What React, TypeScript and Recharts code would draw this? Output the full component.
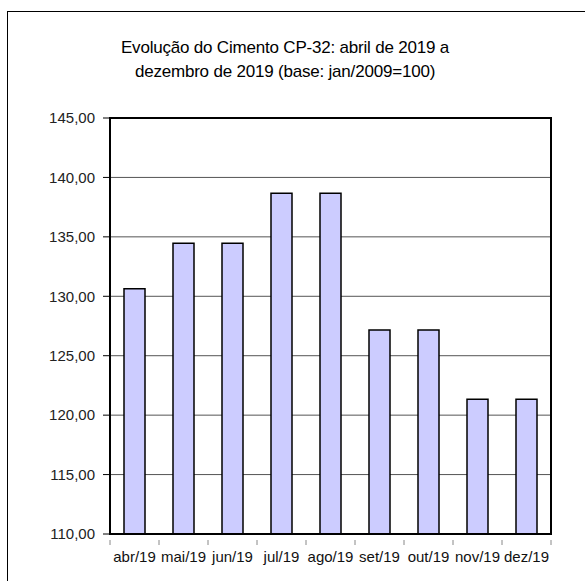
import {
  Bar,
  BarChart,
  CartesianGrid,
  ReferenceArea,
  XAxis,
  YAxis
} from "recharts";

const months = [
  "abr/19",
  "mai/19",
  "jun/19",
  "jul/19",
  "ago/19",
  "set/19",
  "out/19",
  "nov/19",
  "dez/19"
];
const indexValues = [
  130.63, 134.46, 134.46, 138.66, 138.66, 127.16, 127.16, 121.33, 121.33
];
const yTicks = [110, 115, 120, 125, 130, 135, 140, 145];

const data = months.map((m, i) => ({ month: m, value: indexValues[i] }));

const font = "'Liberation Sans', Arial, sans-serif";

const fmt = (v: number) => v.toFixed(2).replace(".", ",");

// category label plus a small tick at the left edge of each band
function MonthTick(props: any) {
  const { x, y, payload, index, visibleTicksCount } = props;
  const half = payload?.offset ?? 24.5;
  const axisY = y - 11;
  const last = index === (visibleTicksCount ?? months.length) - 1;
  return (
    <g>
      <line x1={x - half} x2={x - half} y1={axisY} y2={axisY + 5} stroke="#888" />
      {last && (
        <line x1={x + half} x2={x + half} y1={axisY} y2={axisY + 5} stroke="#888" />
      )}
      <text
        x={x}
        y={y}
        dy="0.71em"
        textAnchor="middle"
        fill="#111"
        fontSize={15}
        fontFamily={font}
      >
        {payload.value}
      </text>
    </g>
  );
}

export default function App() {
  return (
    <div
      style={{
        position: "fixed",
        left: 0,
        top: 0,
        width: 585,
        height: 581,
        overflow: "hidden",
        background: "#fff",
        fontFamily: font
      }}
    >
      <div
        style={{
          position: "absolute",
          left: 7,
          top: 11,
          width: 700,
          height: 700,
          borderLeft: "1.5px solid #000",
          borderTop: "1.5px solid #000"
        }}
      />
      <div
        style={{
          position: "absolute",
          left: 85,
          width: 400,
          top: 36,
          textAlign: "center",
          fontSize: 17,
          lineHeight: "24px",
          letterSpacing: "-0.2px",
          color: "#000"
        }}
      >
        Evolução do Cimento CP-32: abril de 2019 a
        <br />
        dezembro de 2019 (base: jan/2009=100)
      </div>
      <div style={{ position: "absolute", left: 0, top: 0 }}>
        <BarChart
          width={585}
          height={581}
          data={data}
          margin={{ top: 118, right: 34, bottom: 17, left: 0 }}
          barCategoryGap={0}
        >
          <CartesianGrid vertical={false} stroke="#555" strokeWidth={1} />
          <XAxis
            dataKey="month"
            height={30}
            interval={0}
            tickLine={false}
            tickMargin={11}
            axisLine={{ stroke: "#000", strokeWidth: 2 }}
            tick={<MonthTick />}
          />
          <YAxis
            domain={[110, 145]}
            ticks={yTicks}
            width={110}
            interval={0}
            tickFormatter={fmt}
            tickSize={7}
            tickMargin={8}
            tickLine={{ stroke: "#000" }}
            axisLine={{ stroke: "#000", strokeWidth: 2 }}
            tick={{ fill: "#222", fontSize: 15, fontFamily: font }}
          />
          <ReferenceArea
            y1={110}
            y2={145}
            fill="none"
            stroke="#000"
            strokeWidth={2}
            ifOverflow="visible"
          />
          <Bar
            dataKey="value"
            fill="#CCCCFF"
            stroke="#000"
            strokeWidth={1.5}
            barSize={21}
            isAnimationActive={false}
          />
        </BarChart>
      </div>
    </div>
  );
}
